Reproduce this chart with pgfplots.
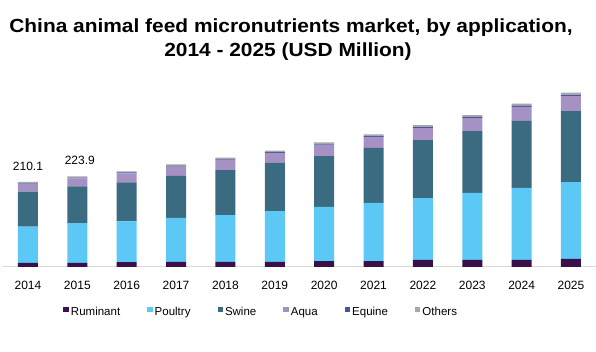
\documentclass[border=0pt]{standalone}
\usepackage{pgfplots}
\pgfplotsset{compat=1.18}
\usepackage{fontspec}
\setmainfont{Liberation Sans}
\newfontfamily\titlefont[FakeStretch=1.1]{Liberation Sans}
\definecolor{rum}{HTML}{3A0F4A}
\definecolor{pou}{HTML}{5BC8F5}
\definecolor{swi}{HTML}{3A6B80}
\definecolor{aqu}{HTML}{A691C4}
\definecolor{equ}{HTML}{4A55A0}
\definecolor{oth}{HTML}{A6A6A6}
\definecolor{axl}{HTML}{D9D9D9}
\begin{document}
\begin{tikzpicture}[x=1pt,y=1pt]
\path[use as bounding box] (0,0) rectangle (596,352);
\node[anchor=base,font=\titlefont\bfseries\fontsize{19}{22}\selectfont,inner sep=0pt] at (291,{352-32.7}) {China animal feed micronutrients market, by application,};
\node[anchor=base,font=\titlefont\bfseries\fontsize{19}{22}\selectfont,inner sep=0pt] at (288,{352-56.7}) {2014 - 2025 (USD Million)};
\begin{axis}[
  at={(3pt,85pt)}, anchor=south west,
  scale only axis, width=593pt, height=202.3pt,
  xmin=-0.506, xmax=11.507, ymin=0, ymax=500,
  ybar stacked, bar width=20pt,
  axis y line=none,
  axis x line*=bottom,
  x axis line style={draw=axl, line width=1pt, -},
  xtick={0,...,11},
  xticklabels={2014,2015,2016,2017,2018,2019,2020,2021,2022,2023,2024,2025},
  major tick length=0pt,
  xticklabel style={font=\fontsize{12}{14}\selectfont, anchor=base, yshift=-23pt, inner sep=0pt},
  legend columns=6,
  legend style={at={(0.4355,-0.222)}, anchor=center, draw=none, fill=none,
    font=\fontsize{11.5}{14}\selectfont,
    /tikz/every even column/.append style={column sep=25pt},
    inner sep=0pt},
  legend image code/.code={\path[#1,draw=none] (0pt,-0.5pt) rectangle (5.5pt,5pt);},
  clip=false,
]
\addplot+[fill=rum, draw=none] coordinates {(0,10) (1,10) (2,12) (3,12.4) (4,12.4) (5,12.4) (6,14.8) (7,14.8) (8,17.3) (9,17.3) (10,17.3) (11,19.8)};
\addplot+[fill=pou, draw=none] coordinates {(0,89.6) (1,98.5) (2,101) (3,109) (4,116) (5,126) (6,133.5) (7,143.4) (8,153) (9,165.6) (10,178) (11,190)};
\addplot+[fill=swi, draw=none] coordinates {(0,86.5) (1,90.6) (2,96.4) (3,103.8) (4,111) (5,118.7) (6,126) (7,136) (8,143.4) (9,153) (10,165.6) (11,175.5)};
\addplot+[fill=aqu, draw=none] coordinates {(0,20) (1,19.8) (2,22.2) (3,23) (4,24.7) (5,24.7) (6,27) (7,27.2) (8,29.7) (9,32) (10,34.6) (11,37)};
\addplot+[fill=equ, draw=none] coordinates {(0,1.5) (1,2) (2,2) (3,2) (4,2) (5,2) (6,2) (7,2) (8,2.5) (9,2.5) (10,2.5) (11,2.5)};
\addplot+[fill=oth, draw=none] coordinates {(0,2.5) (1,3) (2,3) (3,3.5) (4,4) (5,4) (6,4.5) (7,4.5) (8,5) (9,5) (10,5.5) (11,6)};
\legend{Ruminant,Poultry,Swine,Aqua,Equine,Others}
\node[anchor=base,font=\fontsize{12}{14}\selectfont,inner sep=0pt] at (axis cs:0,237.3) {210.1};
\node[anchor=base,font=\fontsize{12}{14}\selectfont,inner sep=0pt] at (axis cs:1.05,252.1) {223.9};
\end{axis}
\end{tikzpicture}
\end{document}
